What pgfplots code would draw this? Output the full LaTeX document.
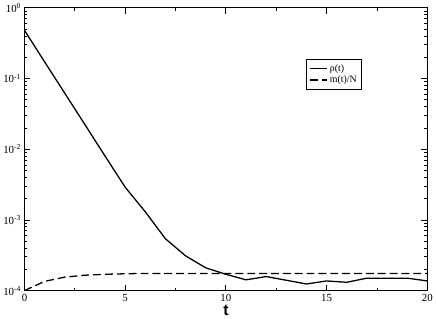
\documentclass[border=0pt]{standalone}
\usepackage{fontspec}
\setmainfont{Liberation Serif}
\newfontfamily\labelfont{Liberation Sans}
\usepackage{pgfplots}
\pgfplotsset{compat=1.18}
\begin{document}
\begin{tikzpicture}
\begin{axis}[
    scale only axis,
    width=406bp, height=285bp,
    ymode=log,
    xmin=0, xmax=20,
    ymin=1e-4, ymax=1,
    xtick={0,5,10,15,20},
    minor x tick num=1,
    ytick={1e-4,1e-3,1e-2,1e-1,1},
    yticklabels={10\textsuperscript{-4},10\textsuperscript{-3},10\textsuperscript{-2},10\textsuperscript{-1},10\textsuperscript{0}},
    /pgf/number format/assume math mode=true,
    tick align=inside,
    major tick length=6bp,
    minor tick length=3bp,
    tick style={black, line width=0.8pt},
    axis line style={line width=1pt},
    ticklabel style={font=\fontsize{11}{13}\selectfont},
    xlabel={\labelfont\bfseries t},
    xlabel style={font=\fontsize{16}{18}\selectfont, yshift=3bp},
    legend style={at={(0.70,0.818)}, anchor=north west, draw=black, line width=0.6pt,
        font=\fontsize{10}{12}\selectfont, inner sep=3pt, row sep=-1pt},
    legend cell align=left,
]
\addplot[black, line width=1.3pt] coordinates {
    (0,0.48) (1,0.172) (2,0.062) (3,0.0223) (4,0.0080) (5,0.0029)
    (6,1.3e-3) (7,5.4e-4) (8,3.1e-4) (9,2.1e-4) (10,1.7e-4)
    (11,1.42e-4) (12,1.58e-4) (13,1.4e-4) (14,1.24e-4) (15,1.37e-4)
    (16,1.31e-4) (17,1.5e-4) (18,1.5e-4) (19,1.5e-4) (20,1.37e-4)
};
\addlegendentry{ρ(t)}
\addplot[black, line width=1.3pt, dash pattern=on 8pt off 4pt] coordinates {
    (0,1.0e-4) (1,1.35e-4) (2,1.55e-4) (3,1.65e-4) (4,1.7e-4) (5,1.73e-4)
    (6,1.75e-4) (8,1.75e-4) (10,1.75e-4) (12,1.75e-4) (14,1.75e-4)
    (16,1.75e-4) (18,1.75e-4) (20,1.75e-4)
};
\addlegendentry{m(t)/N}
\end{axis}
\end{tikzpicture}
\end{document}
